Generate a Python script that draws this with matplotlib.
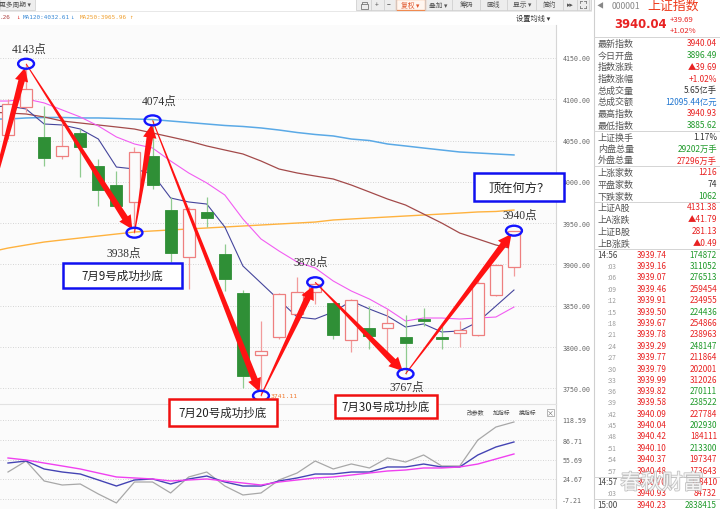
import numpy as np
import matplotlib
matplotlib.use('Agg')
import matplotlib.pyplot as plt
from matplotlib.patches import Rectangle, Ellipse, Polygon
import matplotlib.transforms as mtransforms
import matplotlib.patheffects as pe

plt.rcParams['font.family'] = ['Noto Sans CJK SC', 'DejaVu Sans']

# ---------------- data ----------------
opens  = [4056.8, 4090.7, 4054.4, 4031.3, 4059.2, 4019.2, 3996.2, 3975.7, 4031.3, 3966.0,
          3909.1, 3963.6, 3912.7, 3865.5, 3790.4, 3812.2, 3840.0, 3866.7, 3853.4, 3808.6,
          3823.1, 3823.1, 3812.2, 3834.0, 3812.2, 3817.0, 3814.6, 3863.0, 3896.49]
closes = [4094.3, 4112.5, 4028.9, 4043.5, 4042.2, 3990.2, 3970.8, 4036.2, 3996.2, 3914.0,
          3967.2, 3956.3, 3882.4, 3765.0, 3795.3, 3864.3, 3866.7, 3876.4, 3814.6, 3857.0,
          3813.4, 3829.2, 3805.0, 3831.6, 3809.8, 3820.7, 3877.6, 3899.4, 3940.04]
highs  = [4100.0, 4143.0, 4091.9, 4078.6, 4064.0, 4027.7, 4013.0, 4042.2, 4074.5, 3981.7,
          3969.6, 3981.7, 3924.8, 3869.0, 3831.6, 3865.5, 3884.9, 3878.5, 3854.0, 3858.0,
          3849.7, 3846.0, 3838.9, 3847.3, 3825.5, 3831.6, 3882.4, 3900.6, 3940.93]
lows   = [4052.0, 4084.6, 4019.0, 4027.7, 4006.0, 3970.8, 3969.5, 3938.5, 3991.0, 3903.0,
          3870.0, 3945.4, 3868.0, 3750.0, 3741.11, 3810.0, 3839.0, 3852.0, 3809.8, 3794.0,
          3797.7, 3789.0, 3767.5, 3825.5, 3797.7, 3800.0, 3813.5, 3862.0, 3885.62]

# moving averages, bar index -1 .. 28
ma_short = [4090.7, 4091.9, 4088.3, 4070.1, 4068.9, 4064.0, 4051.9, 4018.0, 4015.6, 4009.6,
            3980.5, 3975.7, 3973.2, 3945.4, 3898.2, 3877.6, 3857.0, 3836.4, 3834.0, 3842.5,
            3855.8, 3846.1, 3837.6, 3824.3, 3828.0, 3818.3, 3819.5, 3830.4, 3849.7, 3869.1]
ma_mid   = [4097.9, 4097.9, 4100.4, 4095.6, 4087.1, 4078.6, 4067.7, 4054.4, 4045.9, 4041.0,
            4025.3, 4010.8, 3998.7, 3984.1, 3955.1, 3930.9, 3916.3, 3903.0, 3895.8, 3880.0,
            3867.9, 3858.2, 3846.1, 3831.6, 3835.2, 3835.2, 3834.0, 3835.2, 3836.4, 3848.5]
ma60     = [4084.6, 4083.4, 4082.2, 4078.6, 4073.7, 4071.3, 4068.9, 4066.5, 4064.0, 4059.2,
            4054.4, 4049.5, 4043.5, 4038.6, 4033.8, 4025.3, 4015.6, 4010.8, 4007.1, 4003.5,
            3996.2, 3987.8, 3979.3, 3972.0, 3961.1, 3950.2, 3938.1, 3930.9, 3923.6, 3918.8]
ma120    = [4076.1, 4076.1, 4077.4, 4078.0, 4078.0, 4077.4, 4077.4, 4076.8, 4076.1, 4075.5,
            4073.7, 4071.9, 4070.1, 4068.3, 4067.1, 4065.3, 4062.8, 4059.8, 4057.4, 4055.6,
            4051.9, 4050.1, 4045.9, 4043.5, 4041.0, 4038.6, 4036.2, 4035.0, 4033.8, 4032.61]
ma250    = [3915.1, 3919.9, 3923.6, 3927.2, 3929.7, 3932.1, 3934.5, 3936.9, 3939.3, 3940.6,
            3941.8, 3943.0, 3944.2, 3945.4, 3946.6, 3947.8, 3949.0, 3950.2, 3951.4, 3953.9,
            3955.1, 3956.3, 3957.5, 3958.7, 3959.9, 3961.1, 3962.3, 3963.6, 3964.2, 3965.96]

# lower indicator, bar index 0 .. 28
ind_gray = [35.8, 53.3, 21.5, 15.1, 16.7, 0.8, -13.5, 19.9, 19.9, 2.4, 27.9, 35.8, 13.5, -0.8,
            2.4, 23.1, 34.2, 53.3, 40.6, 48.6, 42.2, 58.1, 51.7, 62.9, 45.4, 45.4, 86.7, 107.4, 115.4]
ind_blue = [50.1, 53.3, 40.6, 35.8, 32.6, 23.1, 13.5, 23.1, 24.7, 16.7, 24.7, 29.4, 19.9, 13.5,
            13.5, 21.5, 26.3, 32.6, 32.6, 35.8, 35.8, 43.8, 43.8, 48.5, 43.8, 43.8, 62.9, 75.6, 83.6]
ind_pink = [58.1, 54.9, 50.1, 45.4, 40.6, 34.2, 27.9, 26.3, 24.7, 21.5, 23.1, 24.7, 21.5, 18.3,
            15.1, 19.9, 23.1, 26.3, 27.9, 31.0, 34.2, 37.4, 39.0, 42.2, 42.2, 43.8, 48.5, 56.5, 64.5]

price_ticks = [3750, 3800, 3850, 3900, 3950, 4000, 4050, 4100, 4150]
ind_ticks = [-7.21, 24.67, 55.69, 86.71, 118.59]

# turning points (bar index, label)
pivot_idx = [1, 7, 8, 14, 17, 22, 28]
pivot_lbl = ["4143点", "3938点", "4074点", "3741.11", "3878点", "3767点", "3940点"]
start_point = (-1.5, 3937.0)

box_texts = ["7月9号成功抄底", "7月20号成功抄底", "7月30号成功抄底", "顶在何方？"]

panel_labels = ["最新指数", "今日开盘", "指数涨跌", "指数涨幅", "总成交量", "总成交额", "最高指数", "最低指数",
                "上证换手", "内盘总量", "外盘总量", "上涨家数", "平盘家数", "下跌家数",
                "上证A股", "上A涨跌", "上证B股", "上B涨跌"]
panel_values = ["3940.04", "3896.49", "▲39.69", "+1.02%", "5.65亿手", "12095.44亿元", "3940.93", "3885.62",
                "1.17%", "29202万手", "27296万手", "1216", "74", "1062",
                "4131.38", "▲41.79", "281.13", "▲0.49"]
panel_colors = ["r", "g", "r", "r", "k", "b", "r", "g", "k", "g", "r", "r", "k", "g", "r", "r", "r", "r"]

tick_times = ["14:56", ":03", ":06", ":09", ":12", ":15", ":18", ":21", ":24", ":27", ":30", ":33",
              ":36", ":39", ":42", ":45", ":48", ":51", ":54", ":57", "14:57", ":03", "15:00"]
tick_prices = [3939.74, 3939.16, 3939.07, 3939.46, 3939.91, 3939.50, 3939.67, 3939.78, 3939.29, 3939.77,
               3939.79, 3939.99, 3939.82, 3939.58, 3940.09, 3940.04, 3940.42, 3940.10, 3940.37, 3940.48,
               3940.70, 3940.93, 3940.23]
tick_vols = [174872, 311052, 276513, 259454, 234955, 224436, 254866, 238963, 248147, 211864,
             202001, 312026, 270111, 238522, 227784, 202930, 184111, 213300, 197347, 173643,
             178410, 84732, 2838415]
tick_vol_colors = ["g", "g", "g", "r", "r", "g", "r", "r", "g", "r", "r", "r", "g", "g", "r", "g",
                   "r", "g", "r", "r", "r", "r", "g"]

# ---------------- figure ----------------
W, H = 720, 510
fig = plt.figure(figsize=(7.2, 5.1), dpi=100)
fig.patch.set_facecolor('white')

def fy(y):
    return 1 - y / H

BG = '#fbfbfb'
C = {'r': '#e82222', 'g': '#1f9a2a', 'b': '#2277d0', 'k': '#333333'}

XL = (-8 / 18.07, 548 / 18.07)

ax = fig.add_axes([0, fy(405), 556 / W, (405 - 26) / H])
axb = fig.add_axes([0, 0, 556 / W, (510 - 405) / H])
ov = fig.add_axes([0, 0, 1, 1])

for a in (ax, axb):
    a.set_facecolor(BG)
    for s in ['top', 'left', 'bottom']:
        a.spines[s].set_visible(False)
    a.spines['right'].set_color('#d6d6d6')
    a.spines['right'].set_linewidth(0.8)
    a.set_xlim(*XL)
    a.set_xticks([])
    a.yaxis.tick_right()
    a.tick_params(axis='y', length=0, pad=4.5)
    a.set_autoscale_on(False)

ax.set_ylim(4150 - (405 - 59) * 1.2107, 4150 + (59 - 26) * 1.2107)
ax.set_yticks(price_ticks)
ax.set_yticklabels([f"{v:.2f}" for v in price_ticks], fontfamily='DejaVu Sans Mono', fontsize=4.8, color='#666')
ax.grid(True, axis='y', linestyle=(0, (1, 2)), color='#c9c9c9', lw=0.6)
ax.set_axisbelow(True)

axb.set_ylim(118.59 - (510 - 421) * 1.592, 118.59 + (421 - 405) * 1.592)
axb.set_yticks(ind_ticks)
axb.set_yticklabels([f"{v:.2f}" for v in ind_ticks], fontfamily='DejaVu Sans Mono', fontsize=4.8, color='#666')
axb.grid(True, axis='y', linestyle=(0, (1, 2)), color='#c9c9c9', lw=0.6)
axb.set_axisbelow(True)
axb.spines['top'].set_visible(True)
axb.spines['top'].set_color('#e2e2e2')

# candles
n = len(opens)
idx = np.arange(n)
w = 0.66
for i in idx:
    o, c, h, l = opens[i], closes[i], highs[i], lows[i]
    up = c >= o
    body_lo, body_hi = min(o, c), max(o, c)
    if up:
        wc = '#f29b9b'
        ax.add_patch(Rectangle((i - w / 2, body_lo), w, body_hi - body_lo, facecolor=BG,
                               edgecolor='#ee7f7f', lw=0.9, zorder=3))
    else:
        wc = '#8fcb8f'
        ax.add_patch(Rectangle((i - w / 2, body_lo), w, max(body_hi - body_lo, 1.2), facecolor='#2f8f36',
                               edgecolor='#2f8f36', lw=0.6, zorder=3))
    ax.plot([i, i], [body_hi, h], color=wc, lw=0.9, zorder=2.5, solid_capstyle='butt')
    ax.plot([i, i], [l, body_lo], color=wc, lw=0.9, zorder=2.5, solid_capstyle='butt')

xm = np.arange(-1, n)
ax.plot(xm, ma250, color='#ffb23e', lw=1.0, zorder=2)
ax.plot(xm, ma120, color='#5aa9e6', lw=1.1, zorder=2)
ax.plot(xm, ma60, color='#a34a4a', lw=0.9, zorder=2)
ax.plot(xm, ma_mid, color='#f25cf2', lw=0.8, zorder=2)
ax.plot(xm, ma_short, color='#45459c', lw=0.8, zorder=2)

axb.plot(idx, ind_gray, color='#a8a8a8', lw=0.9)
axb.plot(idx, ind_blue, color='#4444b4', lw=1.0)
axb.plot(idx, ind_pink, color='#f040f0', lw=1.0)

# tapered arrows
def taper_arrow(a, p0, p1, w0=0.9, w1=6.5, hw=13.5, hl=13.5, shrink=4.0, color='#ff1212'):
    T = a.transData
    x0, y0 = T.transform(p0)
    x1, y1 = T.transform(p1)
    dx, dy = x1 - x0, y1 - y0
    L = np.hypot(dx, dy)
    ux, uy = dx / L, dy / L
    x1, y1 = x1 - ux * shrink, y1 - uy * shrink
    nx, ny = -uy, ux
    bx, by = x1 - ux * hl, y1 - uy * hl
    pts = [(x0 + nx * w0 / 2, y0 + ny * w0 / 2), (bx + nx * w1 / 2, by + ny * w1 / 2),
           (bx + nx * hw / 2, by + ny * hw / 2), (x1, y1), (bx - nx * hw / 2, by - ny * hw / 2),
           (bx - nx * w1 / 2, by - ny * w1 / 2), (x0 - nx * w0 / 2, y0 - ny * w0 / 2)]
    a.add_patch(Polygon(pts, closed=True, facecolor=color, edgecolor='none',
                        transform=mtransforms.IdentityTransform(), zorder=5))

pts = [start_point]
for k, i in enumerate(pivot_idx):
    p = highs[i] if k % 2 == 0 else lows[i]
    pts.append((i, p))
for k in range(len(pts) - 1):
    taper_arrow(ax, pts[k], pts[k + 1])

# circles and labels
lbl_off = [(3, 15), (-11, -20), (7, 20), (10, 0), (-5, 20), (1, -13), (6, 16)]
for k, (i, p) in enumerate(pts[1:]):
    ax.add_patch(Ellipse((i, p), 0.88, 12.0, facecolor='none', edgecolor='#1414ff', lw=1.7, zorder=6))
    if pivot_lbl[k] == "3741.11":
        ax.annotate(pivot_lbl[k], xy=(i, p), xytext=lbl_off[k], textcoords='offset pixels',
                    ha='left', va='center', fontsize=4.6, color='#f07a30', fontfamily='DejaVu Sans Mono',
                    annotation_clip=False)
    else:
        ax.annotate(pivot_lbl[k], xy=(i, p), xytext=lbl_off[k], textcoords='offset pixels',
                    ha='center', va='center', fontsize=8.3, color='#333333',
                    fontfamily=['Liberation Serif', 'Noto Sans CJK SC'], annotation_clip=False)

# ---------------- overlay (UI chrome) ----------------
ov.set_xlim(0, W)
ov.set_ylim(H, 0)
ov.axis('off')
ov.patch.set_alpha(0)

def box(x0, y0, x1, y1, txt, ec, fs=8.3):
    ov.add_patch(Rectangle((x0, y0), x1 - x0, y1 - y0, facecolor='white', edgecolor=ec, lw=1.8, zorder=8))
    ov.text((x0 + x1) / 2, (y0 + y1) / 2, txt, ha='center', va='center', fontsize=fs, color='#222', zorder=9)

box(63, 264, 182, 289, box_texts[0], '#1010f0')
box(169, 400, 277, 427, box_texts[1], '#f01010')
box(335, 396, 437, 419, box_texts[2], '#f01010')
box(474, 174, 564, 202, box_texts[3], '#1010f0', fs=8.8)

# toolbar
ov.add_patch(Rectangle((0, 0), 35, 10.5, facecolor='#eeeeee', edgecolor='#d4d4d4', lw=0.6))
ov.text(-1, 5.3, "更多周期 ▾", ha='left', va='center', fontsize=4.9, color='#555')
ov.add_patch(Rectangle((356, 0), 235, 11, facecolor='#ededed', edgecolor='#d0d0d0', lw=0.6))
for xs in [371, 384, 396, 425, 452, 480, 507, 536, 563, 577, 589]:
    ov.plot([xs, xs], [0, 11], color='#d0d0d0', lw=0.6)
ov.add_patch(Rectangle((396, 0), 29, 11, facecolor='#fff6f0', edgecolor='#f08a50', lw=0.9))
ov.add_patch(Rectangle((361, 5), 7, 4.5, facecolor='none', edgecolor='#777', lw=0.6))
ov.plot([362, 362, 366.5, 366.5], [5, 2.5, 2.5, 3.5], color='#777', lw=0.6)
# full-screen icon (corner marks)
for cx, cy, sx, sy in [(580, 2, 1, 1), (586, 2, -1, 1), (580, 9, 1, -1), (586, 9, -1, -1)]:
    ov.plot([cx, cx + 2 * sx], [cy, cy], color='#777', lw=0.6)
    ov.plot([cx, cx], [cy, cy + 2 * sy], color='#777', lw=0.6)
tb = [(377, "+"), (389, "−"), (410, "复权 ▾"), (438, "叠加 ▾"), (466, "筹码"), (493, "画线"),
      (522, "显示 ▾"), (549, "简约"), (570, "▸▸")]
for xx, t in tb:
    col = '#e0552a' if t.startswith("复权") else '#555'
    ov.text(xx, 5.5, t, ha='center', va='center', fontsize=4.9, color=col)
ov.plot([0, 591], [12, 12], color='#e4e4e4', lw=0.6)

# legend row
leg = [(0, ".26", '#b04444'), (16, "↓", '#e03030'), (23, "MA120:4032.61", '#3a8ad6'),
       (70, "↓", '#3a8ad6'), (80, "MA250:3965.96", '#f0a030'), (129, "↑", '#f0a030')]
for xx, t, col in leg:
    ov.text(xx, 17.5, t, ha='left', va='center', fontsize=4.3, color=col, fontfamily='DejaVu Sans Mono')
ov.text(516, 19, "设置均线 ▾", ha='left', va='center', fontsize=5.2, color='#333')

# lower panel header
for xx, t in [(467, "改参数"), (493, "加指标"), (519, "换指标")]:
    ov.text(xx, 413, t, ha='left', va='center', fontsize=4.2, color='#444')
ov.add_patch(Rectangle((546.5, 409.5), 7, 7, facecolor='white', edgecolor='#999', lw=0.5))
ov.text(550, 413, "×", ha='center', va='center', fontsize=5, color='#666')

# right panel
ov.add_patch(Rectangle((593, 0), 127, 510, facecolor='white', edgecolor='none', zorder=1))
ov.plot([593.5, 593.5], [0, 510], color='#cfcfcf', lw=0.8, zorder=2)
ov.text(597, 6.5, "◀", ha='left', va='center', fontsize=5, color='#888', zorder=3)
ov.text(612, 6.5, "000001", ha='left', va='center', fontsize=6.3, color='#888', zorder=3)
ov.text(647, 6.5, "上证指数", ha='left', va='center', fontsize=9.3, color='#ee3a1c', zorder=3)
ov.text(614, 25, "3940.04", ha='left', va='center', fontsize=8.4, color=C['r'], fontweight='bold',
        fontfamily='DejaVu Sans', zorder=3)
ov.text(670, 20.5, "+39.69", ha='left', va='center', fontsize=5.6, color=C['r'], zorder=3)
ov.text(670, 31, "+1.02%", ha='left', va='center', fontsize=5.6, color=C['r'], zorder=3)
for yy in [38, 131.5, 167, 202.5, 250]:
    ov.plot([594, 720], [yy, yy], color='#d4d4d4', lw=0.7, zorder=2)

row_y = [44, 56, 67.5, 79, 91, 102, 114, 126, 138, 149.5, 161, 173, 185, 197, 208, 220, 232, 244]
for yy, lab, val, col in zip(row_y, panel_labels, panel_values, panel_colors):
    ov.text(598, yy, lab, ha='left', va='center', fontsize=6.5, color='#555', zorder=3)
    ov.text(717, yy, val, ha='right', va='center', fontsize=6.0, color=C[col], zorder=3)

tick_y = [256, 267, 278, 290, 301, 313, 324, 335, 347, 358, 370, 381, 392, 403, 415, 426,
          437, 449, 460, 472, 483, 494, 506]
for yy, t, p, v, vc in zip(tick_y, tick_times, tick_prices, tick_vols, tick_vol_colors):
    if t.startswith(":"):
        ov.text(608, yy, t, ha='left', va='center', fontsize=4.6, color='#999', zorder=3)
    else:
        ov.text(597, yy, t, ha='left', va='center', fontsize=5.8, color='#444', zorder=3)
    ov.text(652, yy, f"{p:.2f}", ha='center', va='center', fontsize=5.9, color=C['r'], zorder=3)
    ov.text(717, yy, f"{v}", ha='right', va='center', fontsize=5.9, color=C[vc], zorder=3)
for yy in [477.5, 500]:
    ov.plot([594, 720], [yy, yy], color='#d4d4d4', lw=0.7, zorder=2)

ov.text(662, 484, "春秋财富", ha='center', va='center', fontsize=15, color='white', alpha=0.85, zorder=4,
        path_effects=[pe.withStroke(linewidth=1.2, foreground='#b8b8b8')])

fig.savefig('out.png', dpi=100, facecolor='white')
